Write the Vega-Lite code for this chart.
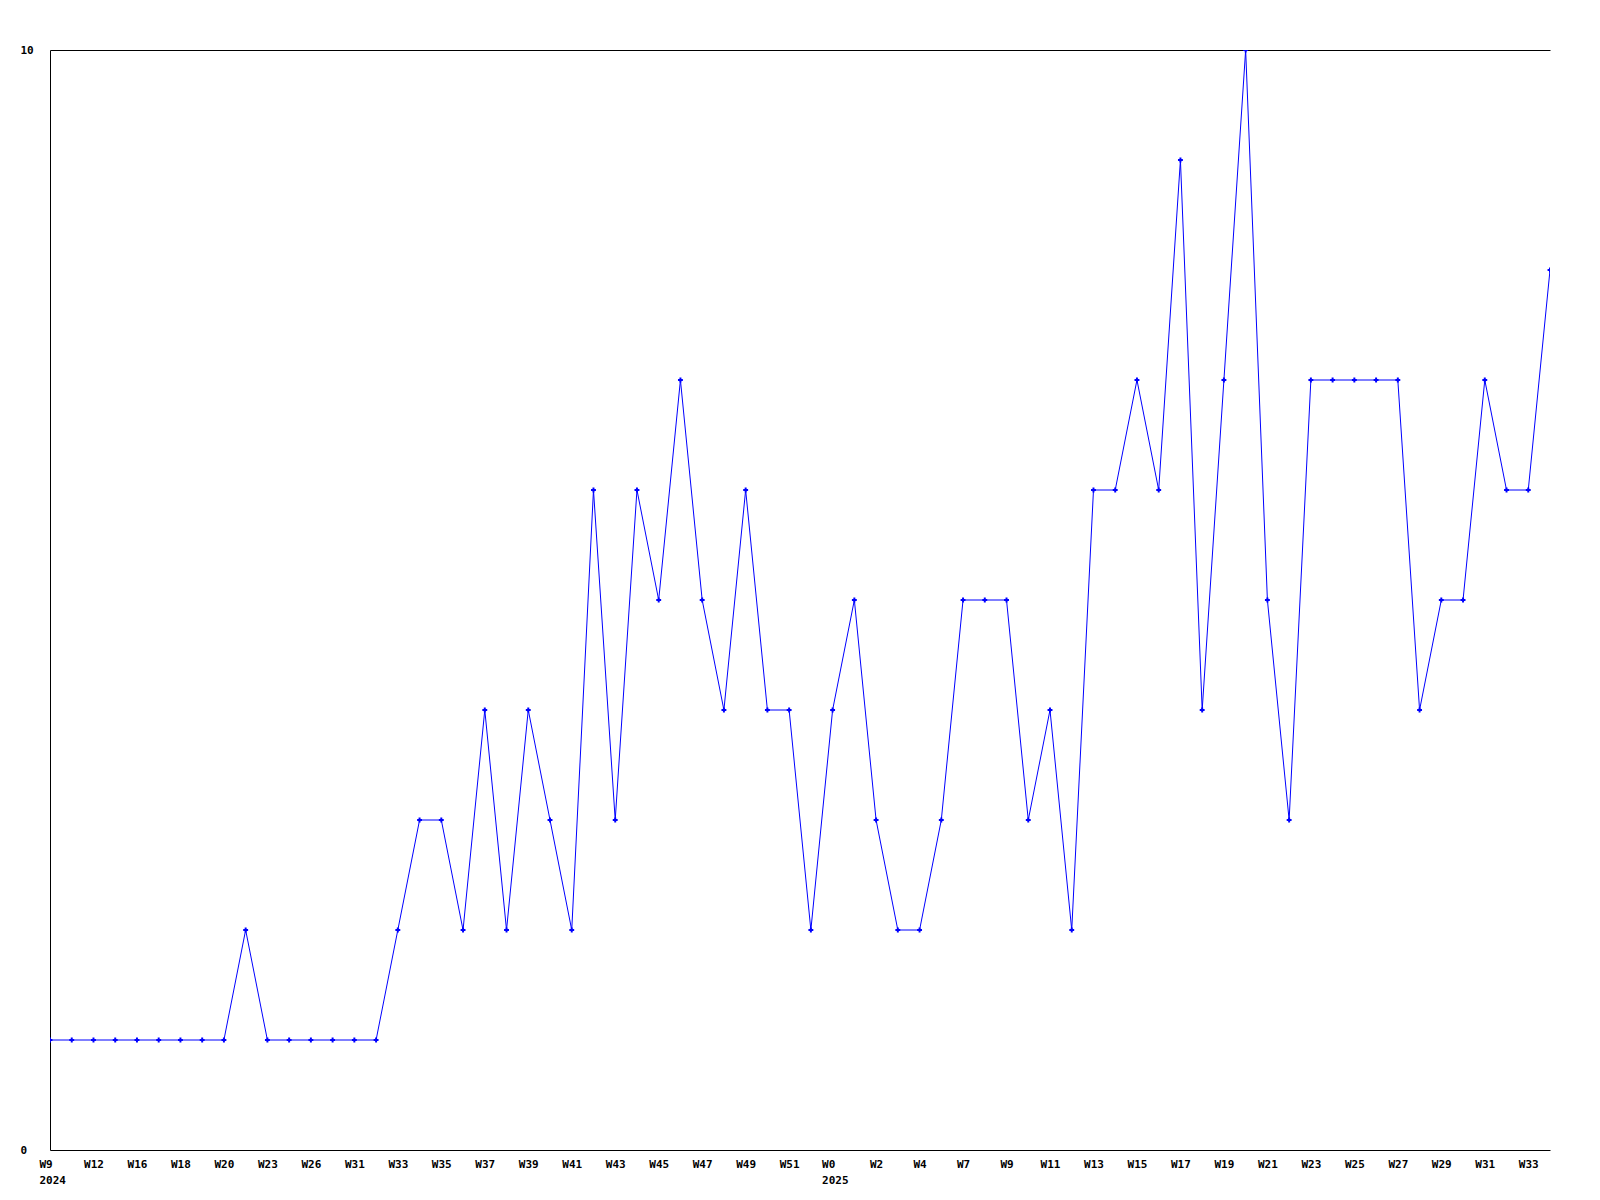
{
  "$schema": "https://vega.github.io/schema/vega-lite/v6.json",
  "width": 1500,
  "height": 1100,
  "autosize": {"type": "none"},
  "padding": {"left": 50, "top": 50, "right": 50, "bottom": 50},
  "background": "white",
  "config": {"view": {"stroke": null}},
  "data": {"values": [
    {"week": "2024 W9", "value": 1}, {"week": "2024 W10", "value": 1}, {"week": "2024 W12", "value": 1}, {"week": "2024 W14", "value": 1},
    {"week": "2024 W16", "value": 1}, {"week": "2024 W17", "value": 1}, {"week": "2024 W18", "value": 1}, {"week": "2024 W19", "value": 1},
    {"week": "2024 W20", "value": 1}, {"week": "2024 W21", "value": 2}, {"week": "2024 W23", "value": 1}, {"week": "2024 W24", "value": 1},
    {"week": "2024 W26", "value": 1}, {"week": "2024 W28", "value": 1}, {"week": "2024 W31", "value": 1}, {"week": "2024 W32", "value": 1},
    {"week": "2024 W33", "value": 2}, {"week": "2024 W34", "value": 3}, {"week": "2024 W35", "value": 3}, {"week": "2024 W36", "value": 2},
    {"week": "2024 W37", "value": 4}, {"week": "2024 W38", "value": 2}, {"week": "2024 W39", "value": 4}, {"week": "2024 W40", "value": 3},
    {"week": "2024 W41", "value": 2}, {"week": "2024 W42", "value": 6}, {"week": "2024 W43", "value": 3}, {"week": "2024 W44", "value": 6},
    {"week": "2024 W45", "value": 5}, {"week": "2024 W46", "value": 7}, {"week": "2024 W47", "value": 5}, {"week": "2024 W48", "value": 4},
    {"week": "2024 W49", "value": 6}, {"week": "2024 W50", "value": 4}, {"week": "2024 W51", "value": 4}, {"week": "2024 W52", "value": 2},
    {"week": "2025 W0", "value": 4}, {"week": "2025 W1", "value": 5}, {"week": "2025 W2", "value": 3}, {"week": "2025 W3", "value": 2},
    {"week": "2025 W4", "value": 2}, {"week": "2025 W6", "value": 3}, {"week": "2025 W7", "value": 5}, {"week": "2025 W8", "value": 5},
    {"week": "2025 W9", "value": 5}, {"week": "2025 W10", "value": 3}, {"week": "2025 W11", "value": 4}, {"week": "2025 W12", "value": 2},
    {"week": "2025 W13", "value": 6}, {"week": "2025 W14", "value": 6}, {"week": "2025 W15", "value": 7}, {"week": "2025 W16", "value": 6},
    {"week": "2025 W17", "value": 9}, {"week": "2025 W18", "value": 4}, {"week": "2025 W19", "value": 7}, {"week": "2025 W20", "value": 10},
    {"week": "2025 W21", "value": 5}, {"week": "2025 W22", "value": 3}, {"week": "2025 W23", "value": 7}, {"week": "2025 W24", "value": 7},
    {"week": "2025 W25", "value": 7}, {"week": "2025 W26", "value": 7}, {"week": "2025 W27", "value": 7}, {"week": "2025 W28", "value": 4},
    {"week": "2025 W29", "value": 5}, {"week": "2025 W30", "value": 5}, {"week": "2025 W31", "value": 7}, {"week": "2025 W32", "value": 6},
    {"week": "2025 W33", "value": 6}, {"week": "2025 W34", "value": 8}
  ]},
  "encoding": {
    "x": {
      "field": "week", "type": "ordinal", "sort": null,
      "scale": {"type": "point", "padding": 0},
      "axis": {
        "title": null,
        "values": ["2024 W9", "2024 W12", "2024 W16", "2024 W18", "2024 W20", "2024 W23", "2024 W26", "2024 W31", "2024 W33", "2024 W35", "2024 W37", "2024 W39", "2024 W41", "2024 W43", "2024 W45", "2024 W47", "2024 W49", "2024 W51", "2025 W0", "2025 W2", "2025 W4", "2025 W7", "2025 W9", "2025 W11", "2025 W13", "2025 W15", "2025 W17", "2025 W19", "2025 W21", "2025 W23", "2025 W25", "2025 W27", "2025 W29", "2025 W31", "2025 W33"],
        "labelExpr": "(datum.value == '2024 W9' || datum.value == '2025 W0') ? [split(datum.value, ' ')[1], split(datum.value, ' ')[0]] : split(datum.value, ' ')[1]",
        "labelAngle": 0,
        "labelAlign": {"condition": {"test": "datum.value == '2024 W9' || datum.value == '2025 W0'", "value": "left"}, "value": "center"},
        "labelOffset": {"condition": {"test": "datum.value == '2024 W9' || datum.value == '2025 W0'", "value": -11}, "value": 0},
        "labelBaseline": "top",
        "labelPadding": 8,
        "labelLineHeight": 16,
        "labelFont": "DejaVu Sans Mono",
        "labelFontWeight": "bold",
        "labelFontSize": 11,
        "labelColor": "black",
        "labelOverlap": false,
        "ticks": false,
        "grid": false,
        "domainColor": "black",
        "domainWidth": 1
      }
    },
    "y": {
      "field": "value", "type": "quantitative",
      "scale": {"domain": [0, 10], "nice": false, "zero": true},
      "axis": {
        "title": null,
        "values": [0, 10],
        "ticks": false,
        "grid": false,
        "labelAlign": "left",
        "labelBaseline": "middle",
        "labelPadding": 30,
        "labelFont": "DejaVu Sans Mono",
        "labelFontWeight": "bold",
        "labelFontSize": 11,
        "labelColor": "black",
        "domainColor": "black",
        "domainWidth": 1
      }
    }
  },
  "resolve": {"axis": {"x": "independent"}},
  "layer": [
    {
      "mark": {"type": "line", "color": "#0000ff", "strokeWidth": 1, "clip": true},
      "encoding": {
        "x": {
          "field": "week", "type": "ordinal", "sort": null,
          "scale": {"type": "point", "padding": 0},
          "axis": {"orient": "top", "title": null, "labels": false, "ticks": false, "grid": false, "domain": true, "domainColor": "black", "domainWidth": 1}
        }
      }
    },
    {
      "mark": {"type": "point", "shape": "cross", "filled": true, "color": "#0000ff", "size": 24, "opacity": 1, "clip": true}
    }
  ]
}
